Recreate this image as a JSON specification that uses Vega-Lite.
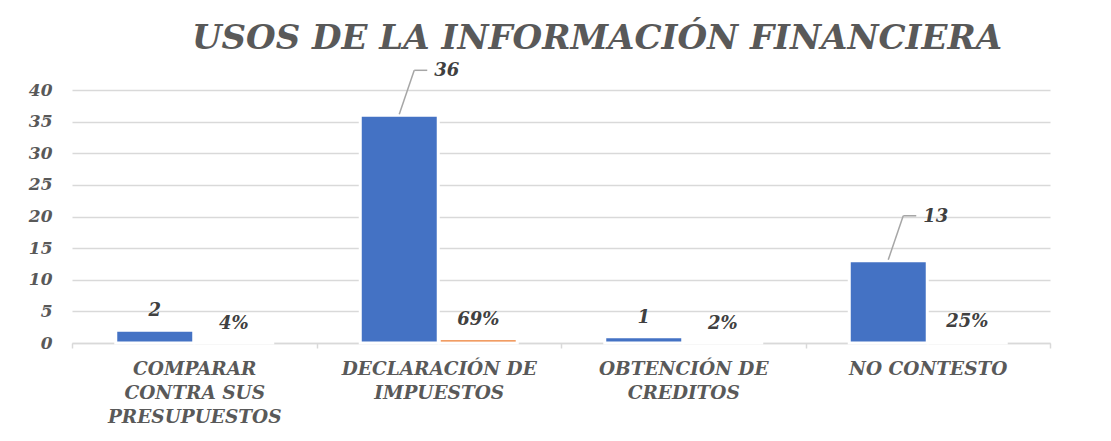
{
  "$schema": "https://vega.github.io/schema/vega-lite/v6.json",
  "width": 978,
  "height": 253,
  "autosize": {"type": "none"},
  "padding": {"left": 72, "top": 90, "right": 61, "bottom": 98},
  "background": "white",
  "config": {"view": {"stroke": null}},
  "title": {
    "text": "USOS DE LA INFORMACIÓN  FINANCIERA",
    "font": "DejaVu Serif",
    "fontSize": 34,
    "fontStyle": "italic",
    "fontWeight": "bold",
    "color": "#595959",
    "frame": "group",
    "anchor": "middle",
    "dx": 36,
    "offset": 6
  },
  "data": {
    "values": [
      {"categoria": "COMPARAR CONTRA SUS PRESUPUESTOS", "serie": "Frecuencia", "valor": 2},
      {"categoria": "COMPARAR CONTRA SUS PRESUPUESTOS", "serie": "Porcentaje", "valor": 0.04},
      {"categoria": "DECLARACIÓN DE IMPUESTOS", "serie": "Frecuencia", "valor": 36},
      {"categoria": "DECLARACIÓN DE IMPUESTOS", "serie": "Porcentaje", "valor": 0.69},
      {"categoria": "OBTENCIÓN DE CREDITOS", "serie": "Frecuencia", "valor": 1},
      {"categoria": "OBTENCIÓN DE CREDITOS", "serie": "Porcentaje", "valor": 0.02},
      {"categoria": "NO CONTESTO", "serie": "Frecuencia", "valor": 13},
      {"categoria": "NO CONTESTO", "serie": "Porcentaje", "valor": 0.25}
    ]
  },
  "encoding": {
    "x": {
      "field": "categoria",
      "type": "nominal",
      "sort": null,
      "scale": {"paddingInner": 0, "paddingOuter": 0},
      "axis": {
        "title": null,
        "labelAngle": 0,
        "labelExpr": "datum.label == 'COMPARAR CONTRA SUS PRESUPUESTOS' ? ['COMPARAR','CONTRA SUS','PRESUPUESTOS'] : datum.label == 'DECLARACIÓN DE IMPUESTOS' ? ['DECLARACIÓN DE','IMPUESTOS'] : datum.label == 'OBTENCIÓN DE CREDITOS' ? ['OBTENCIÓN DE','CREDITOS'] : datum.label",
        "labelFont": "DejaVu Serif",
        "labelFontSize": 18.5,
        "labelFontStyle": "italic",
        "labelFontWeight": "bold",
        "labelColor": "#595959",
        "labelLineHeight": 24,
        "labelPadding": 11,
        "labelLimit": 400,
        "labelBaseline": "top",
        "domainColor": "#d9d9d9",
        "domainWidth": 1.5,
        "tickColor": "#d9d9d9",
        "tickWidth": 1.5,
        "tickSize": 5,
        "tickBand": "extent",
        "grid": false
      }
    },
    "y": {
      "field": "valor",
      "type": "quantitative",
      "scale": {"domain": [0, 40], "nice": false},
      "axis": {
        "title": null,
        "values": [0, 5, 10, 15, 20, 25, 30, 35, 40],
        "domain": false,
        "ticks": false,
        "grid": true,
        "gridColor": "#d9d9d9",
        "gridWidth": 1.5,
        "labelFont": "DejaVu Serif",
        "labelFontSize": 17,
        "labelFontStyle": "italic",
        "labelFontWeight": "bold",
        "labelColor": "#595959",
        "labelPadding": 20
      }
    }
  },
  "layer": [
    {
      "mark": {"type": "bar", "stroke": "white", "strokeWidth": 3},
      "encoding": {
        "xOffset": {
          "field": "serie",
          "type": "nominal",
          "scale": {"paddingInner": 0.0127, "paddingOuter": 0.554}
        },
        "color": {
          "field": "serie",
          "type": "nominal",
          "scale": {"domain": ["Frecuencia", "Porcentaje"], "range": ["#4472C4", "#ED7D31"]},
          "legend": null
        }
      }
    },
    {
      "transform": [{"filter": "datum.serie == 'Frecuencia' && datum.valor < 10"}],
      "mark": {"type": "text", "font": "DejaVu Serif", "fontSize": 18, "fontStyle": "italic", "fontWeight": "bold", "color": "#404040", "dy": -19, "baseline": "middle", "xOffset": -39.5},
      "encoding": {"text": {"field": "valor", "type": "quantitative", "format": "d"}}
    },
    {
      "transform": [{"filter": "datum.serie == 'Porcentaje'"}],
      "mark": {"type": "text", "font": "DejaVu Serif", "fontSize": 18, "fontStyle": "italic", "fontWeight": "bold", "color": "#404040", "dy": -19, "baseline": "middle", "xOffset": 39.5},
      "encoding": {"text": {"field": "valor", "type": "quantitative", "format": ".0%"}}
    },
    {
      "transform": [{"filter": "datum.serie == 'Frecuencia' && datum.valor >= 10"}],
      "mark": {"type": "text", "font": "DejaVu Serif", "fontSize": 18, "fontStyle": "italic", "fontWeight": "bold", "color": "#404040", "dy": -44, "dx": 35, "align": "left", "baseline": "middle", "xOffset": -39.5},
      "encoding": {"text": {"field": "valor", "type": "quantitative", "format": "d"}}
    },
    {
      "transform": [{"filter": "datum.serie == 'Frecuencia' && datum.valor >= 10"}],
      "mark": {"type": "rule", "color": "#a6a6a6", "strokeWidth": 1.5, "xOffset": -39.5, "x2Offset": -24.5, "yOffset": -1, "y2Offset": -45},
      "encoding": {
        "x2": {"field": "categoria"},
        "y2": {"field": "valor"}
      }
    },
    {
      "transform": [{"filter": "datum.serie == 'Frecuencia' && datum.valor >= 10"}],
      "mark": {"type": "rule", "color": "#a6a6a6", "strokeWidth": 1.5, "xOffset": -24.5, "x2Offset": -11.5, "yOffset": -45, "y2Offset": -45},
      "encoding": {
        "x2": {"field": "categoria"},
        "y2": {"field": "valor"}
      }
    }
  ]
}
